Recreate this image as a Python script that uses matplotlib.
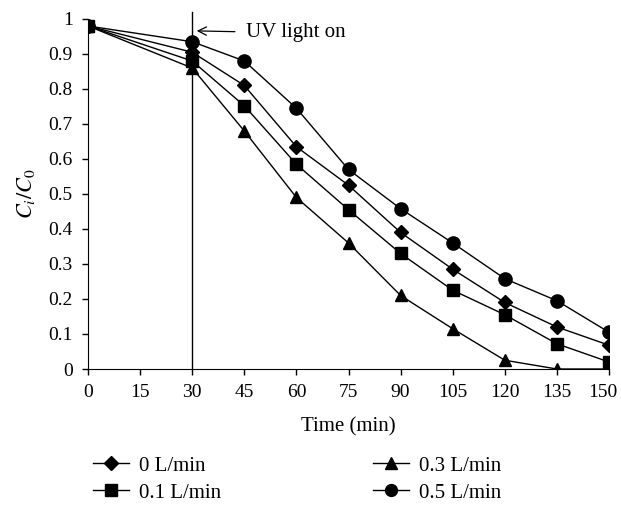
import matplotlib.pyplot as plt
from matplotlib.ticker import FixedLocator
from matplotlib.transforms import ScaledTranslation

# data
time_min = [0, 15, 30, 45, 60, 75, 90, 105, 120, 135, 150]
t_pts = [0, 30, 45, 60, 75, 90, 105, 120, 135, 150]
flow_0 = [0.98, 0.905, 0.81, 0.635, 0.525, 0.39, 0.285, 0.19, 0.12, 0.068]
flow_01 = [0.98, 0.88, 0.752, 0.585, 0.455, 0.33, 0.225, 0.155, 0.072, 0.02]
flow_03 = [0.98, 0.86, 0.68, 0.49, 0.36, 0.21, 0.115, 0.025, 0.0, 0.0]
flow_05 = [0.98, 0.935, 0.88, 0.745, 0.57, 0.458, 0.36, 0.258, 0.195, 0.105]
y_ticks = [0, 0.1, 0.2, 0.3, 0.4, 0.5, 0.6, 0.7, 0.8, 0.9, 1]
y_labels = ["0", "0.1", "0.2", "0.3", "0.4", "0.5", "0.6", "0.7", "0.8", "0.9", "1"]
uv_on = 30

plt.rcParams["font.family"] = ["Liberation Serif", "DejaVu Serif"]
plt.rcParams["mathtext.fontset"] = "stix"

fig = plt.figure(figsize=(6.21, 5.13), dpi=100)
ax = fig.add_axes([0.1417, 0.2807, 0.839, 0.6823])

ax.plot(t_pts, flow_0, "k-", marker="D", ms=7.5, lw=1, label="0 L/min")
ax.plot(t_pts, flow_01, "k-", marker="s", ms=9, lw=1, label="0.1 L/min")
ax.plot(t_pts, flow_03, "k-", marker="^", ms=9, lw=1, label="0.3 L/min")
ax.plot(t_pts, flow_05, "k-", marker="o", ms=9.5, lw=1, label="0.5 L/min")

# UV light switched on
ax.plot([uv_on, uv_on], [0, 1.02], "k-", lw=1, clip_on=False)
ax.annotate("UV light on", xy=(31.3, 0.966), xytext=(45.5, 0.96),
            fontsize=15, va="center",
            arrowprops=dict(arrowstyle="->", color="k", lw=0.9,
                            shrinkA=6, shrinkB=0))

ax.set_xlim(0, 150)
ax.set_ylim(0, 1)
ax.xaxis.set_major_locator(FixedLocator(time_min))
ax.set_yticks(y_ticks)
ax.set_yticklabels(y_labels)
ax.tick_params(labelsize=14, direction="out", length=4.5, width=1)
ax.tick_params(axis="x", pad=6)
ax.tick_params(axis="y", pad=6.5)
ax.spines["top"].set_visible(False)
ax.spines["right"].set_visible(False)
ax.set_xlabel("Time (min)", fontsize=15, labelpad=12)
ax.set_ylabel("$C_i/C_0$", fontsize=16, labelpad=8)

handles, labels = ax.get_legend_handles_labels()
fig.legend(handles, labels, loc="lower left", bbox_to_anchor=(0.1337, 0.0),
           ncol=2, frameon=False, fontsize=15, columnspacing=7.3,
           handlelength=1.7, handletextpad=0.5, labelspacing=0.35,
           borderpad=0, markerscale=0.9)

# nudge the last x label inward so it stays on the canvas
fig.canvas.draw()
last = ax.get_xticklabels()[-1]
last.set_transform(last.get_transform() + ScaledTranslation(-0.06, 0, fig.dpi_scale_trans))

plt.savefig("out.png")
